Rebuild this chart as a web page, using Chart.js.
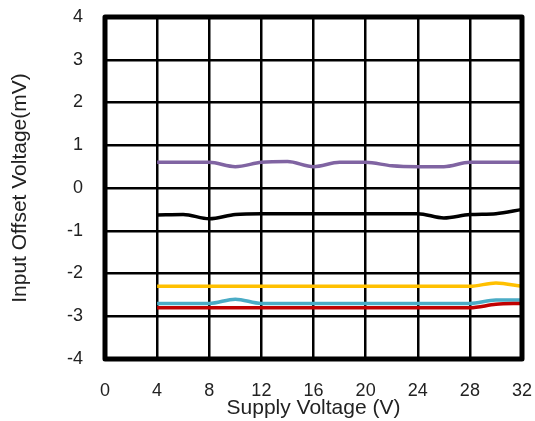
<!DOCTYPE html>
<html>
<head>
<meta charset="utf-8">
<script src="https://cdn.jsdelivr.net/npm/chart.js@4"></script>
<style>
html,body{margin:0;padding:0;background:#fff;}
#wrap{width:535px;height:421px;position:relative;}
</style>
</head>
<body>
<div id="wrap"><canvas id="c" width="535" height="421"></canvas></div>
<script>
const supplyVoltage = [4, 6, 8, 10, 12, 14, 16, 18, 20, 22, 24, 26, 28, 30, 32];
const seriesPurple = [0.6, 0.6, 0.6, 0.5, 0.6, 0.62, 0.5, 0.6, 0.6, 0.52, 0.5, 0.5, 0.6, 0.6, 0.6];
const seriesBlack  = [-0.63, -0.62, -0.72, -0.62, -0.6, -0.6, -0.6, -0.6, -0.6, -0.6, -0.6, -0.7, -0.62, -0.6, -0.5];
const seriesYellow = [-2.3, -2.3, -2.3, -2.3, -2.3, -2.3, -2.3, -2.3, -2.3, -2.3, -2.3, -2.3, -2.3, -2.22, -2.3];
const seriesRed    = [-2.8, -2.8, -2.8, -2.8, -2.8, -2.8, -2.8, -2.8, -2.8, -2.8, -2.8, -2.8, -2.8, -2.72, -2.7];
const seriesCyan   = [-2.7, -2.7, -2.7, -2.6, -2.7, -2.7, -2.7, -2.7, -2.7, -2.7, -2.7, -2.7, -2.7, -2.62, -2.62];
const xTicks = [0, 4, 8, 12, 16, 20, 24, 28, 32];
const yTicks = [-4, -3, -2, -1, 0, 1, 2, 3, 4];

const toPts = arr => supplyVoltage.map((x, i) => ({x: x, y: arr[i]}));
const mk = (arr, color) => ({
  data: toPts(arr), borderColor: color, borderWidth: 3.5, pointRadius: 0,
  fill: false, cubicInterpolationMode: 'monotone'
});

const frame = {
  id: 'frame',
  afterDatasetsDraw(chart) {
    const a = chart.chartArea, ctx = chart.ctx;
    ctx.save();
    ctx.strokeStyle = '#000';
    ctx.lineWidth = 5;
    ctx.lineJoin = 'round';
    ctx.strokeRect(a.left, a.top, a.right - a.left, a.bottom - a.top);
    ctx.restore();
  }
};

new Chart(document.getElementById('c'), {
  type: 'line',
  data: {
    datasets: [
      mk(seriesPurple, '#8064A2'),
      mk(seriesBlack, '#000000'),
      mk(seriesYellow, '#FFC000'),
      mk(seriesRed, '#C00000'),
      mk(seriesCyan, '#4BACC6')
    ]
  },
  options: {
    responsive: false,
    animation: false,
    layout: {padding: {top: 17, right: 13, left: 0, bottom: 0}},
    plugins: {legend: {display: false}, tooltip: {enabled: false}},
    scales: {
      x: {
        type: 'linear', min: 0, max: 32,
        afterBuildTicks: s => { s.ticks = xTicks.map(v => ({value: v})); },
        afterFit: s => { s.height = 62; s.paddingLeft = 0; s.paddingRight = 0; },
        grid: {color: '#000', lineWidth: 2.5, drawTicks: false},
        border: {display: false},
        ticks: {padding: 21, color: '#222', font: {family: 'Liberation Sans', size: 18}, maxRotation: 0},
        title: {display: true, text: 'Supply Voltage (V)', color: '#222',
                font: {family: 'Liberation Sans', size: 21}, padding: {top: -9, bottom: 0}}
      },
      y: {
        type: 'linear', min: -4, max: 4,
        afterBuildTicks: s => { s.ticks = yTicks.map(v => ({value: v})); },
        afterFit: s => { s.width = 105; s.paddingTop = 0; s.paddingBottom = 0; },
        grid: {color: '#000', lineWidth: 2.5, drawTicks: false},
        border: {display: false},
        ticks: {padding: 22, color: '#222', font: {family: 'Liberation Sans', size: 18}},
        title: {display: true, text: 'Input Offset Voltage(mV)', color: '#222',
                font: {family: 'Liberation Sans', size: 21}, padding: {top: 8, bottom: 0}}
      }
    }
  },
  plugins: [frame]
});
</script>
</body>
</html>
